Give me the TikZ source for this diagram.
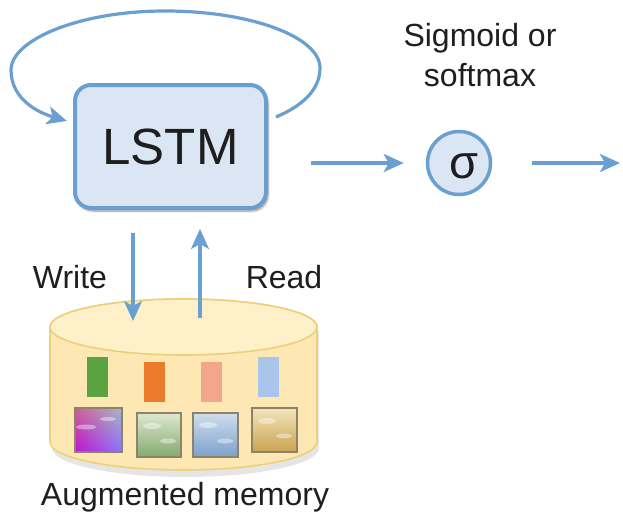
\documentclass[tikz,border=0pt]{standalone}
\usepackage{fontspec}
\setmainfont{Liberation Sans}
\usetikzlibrary{arrows.meta,shadows.blur}

\definecolor{edgeblue}{HTML}{6A9FD2}
\definecolor{boxfill}{HTML}{DAE6F4}
\definecolor{cylbody}{HTML}{FDE8B3}
\definecolor{cyltop}{HTML}{FEF1CA}
\definecolor{cyledge}{HTML}{EDD07C}
\definecolor{bargreen}{HTML}{5BA340}
\definecolor{barorange}{HTML}{EC7A2C}
\definecolor{barsalmon}{HTML}{F4A68C}
\definecolor{barblue}{HTML}{A9C5E9}
\definecolor{txt}{HTML}{1E1E1E}
\definecolor{thumbedge}{HTML}{8C826E}
\definecolor{greentop}{HTML}{DCE8D0}
\definecolor{greenbot}{HTML}{84AA6C}
\definecolor{bluetop}{HTML}{CFDDEE}
\definecolor{bluebot}{HTML}{7CA0CB}
\definecolor{goldtop}{HTML}{F3E5BC}
\definecolor{goldbot}{HTML}{C9A24E}

\begin{document}
\begin{tikzpicture}[x=1pt,y=1pt,
  arr/.style={edgeblue, line width=3.2pt, -{Stealth[length=20pt,width=18pt,inset=5pt]}},
  lbl/.style={font=\fontsize{32}{40}\selectfont, text=txt, inner sep=0pt},
  bar/.style={draw=none, minimum width=21pt, minimum height=40pt, inner sep=0pt},
  thumb/.style={draw=thumbedge, line width=1.3pt},
  streak/.style={white, opacity=0.4}]
\useasboundingbox (0,0) rectangle (623,-522);

% LSTM cell
\node[draw=edgeblue, line width=4pt, fill=boxfill, rounded corners=16pt,
      minimum width=191pt, minimum height=123pt, inner sep=0pt,
      blur shadow={shadow xshift=2pt, shadow yshift=-3pt, shadow blur steps=6, shadow opacity=45},
      font=\fontsize{51}{51}\selectfont, text=txt] (lstm) at (170.5,-146.5) {LSTM};

% output nonlinearity
\node[draw=edgeblue, line width=3.5pt, fill=boxfill, circle, minimum size=63pt, inner sep=0pt] (sig) at (459,-163) {};
\node[font=\fontsize{47}{47}\selectfont, text=txt, inner sep=0pt] (sigsym) at (464,-166) {σ};
\node[lbl, align=center] (siglbl) at (480,-55) {Sigmoid or\\softmax};

% recurrent loop
\coordinate (loopstart) at (276,-117);
\coordinate (loopend) at (67,-121);
\draw[arr] (loopstart) .. controls (302,-106) and (320,-90) .. (320,-68)
  .. controls (320,-37) and (251,-11) .. (165,-11)
  .. controls (79,-11) and (11,-40) .. (11,-70)
  .. controls (11,-98) and (36,-112) .. (loopend);

% forward arrows
\coordinate (outend) at (620,-163);
\draw[arr, shorten <=43pt, shorten >=22pt] (lstm.east |- sig.west) -- (sig.west);
\draw[arr, shorten <=40pt] (sig.east) -- (outend);

% augmented memory (cylinder)
\fill[black, opacity=0.10] (52,-331) -- (52,-448) arc[start angle=180, end angle=360, x radius=133.5pt, y radius=29pt] -- (319,-331) -- cycle;
\draw[cyledge, line width=1.6pt, fill=cylbody]
  (50,-327) -- (50,-442) arc[start angle=180, end angle=360, x radius=133.5pt, y radius=28pt]
  -- (317,-327) arc[start angle=0, end angle=180, x radius=133.5pt, y radius=28pt] -- cycle;
\draw[cyledge, line width=1.6pt, fill=cyltop] (183.5,-327) ellipse[x radius=133.5pt, y radius=28pt];
\coordinate (memtop) at (183.5,-327);

% memory keys
\node[bar, fill=bargreen]  (k1) at (97.5,-377) {};
\node[bar, fill=barorange] (k2) at (154,-382) {};
\node[bar, fill=barsalmon] (k3) at (211.5,-382) {};
\node[bar, fill=barblue]   (k4) at (268,-377) {};

% memory values
\shade[top color=orange!60!magenta!70, middle color=cyan!55!white, bottom color=magenta!85!blue] (75,-408) rectangle (122,-452);
\shade[left color=violet!80, right color=cyan!80, opacity=0.45] (75,-408) rectangle (122,-452);
\fill[streak] (86,-427) ellipse[x radius=10pt, y radius=2.5pt];
\fill[streak] (108,-419) ellipse[x radius=8pt, y radius=2pt];
\draw[thumb] (75,-408) rectangle (122,-452);

\shade[top color=greentop, middle color=white, bottom color=greenbot] (137,-413) rectangle (181,-457);
\fill[streak] (152,-426) ellipse[x radius=9pt, y radius=3pt];
\fill[streak] (168,-441) ellipse[x radius=8pt, y radius=2.5pt];
\draw[thumb] (137,-413) rectangle (181,-457);

\shade[top color=bluetop, middle color=white, bottom color=bluebot] (193,-413) rectangle (238,-457);
\fill[streak] (208,-425) ellipse[x radius=9pt, y radius=3pt];
\fill[streak] (225,-441) ellipse[x radius=8pt, y radius=2.5pt];
\draw[thumb] (193,-413) rectangle (238,-457);

\shade[top color=goldtop, middle color=white!80!yellow, bottom color=goldbot] (252,-408) rectangle (297,-452);
\fill[streak] (267,-421) ellipse[x radius=9pt, y radius=3pt];
\fill[streak] (284,-436) ellipse[x radius=8pt, y radius=2.5pt];
\draw[thumb] (252,-408) rectangle (297,-452);

% read / write
\coordinate (wfrom) at (133,-233);
\coordinate (wto) at (133,-321);
\coordinate (rfrom) at (200,-318);
\coordinate (rto) at (200,-229);
\draw[arr] (wfrom) -- (wto);
\draw[arr] (rfrom) -- (rto);
\node[lbl] (write) at (70,-277) {Write};
\node[lbl] (read) at (284,-277) {Read};

\node[lbl] (memlbl) at (185,-497) {Augmented memory};
\end{tikzpicture}
\end{document}
